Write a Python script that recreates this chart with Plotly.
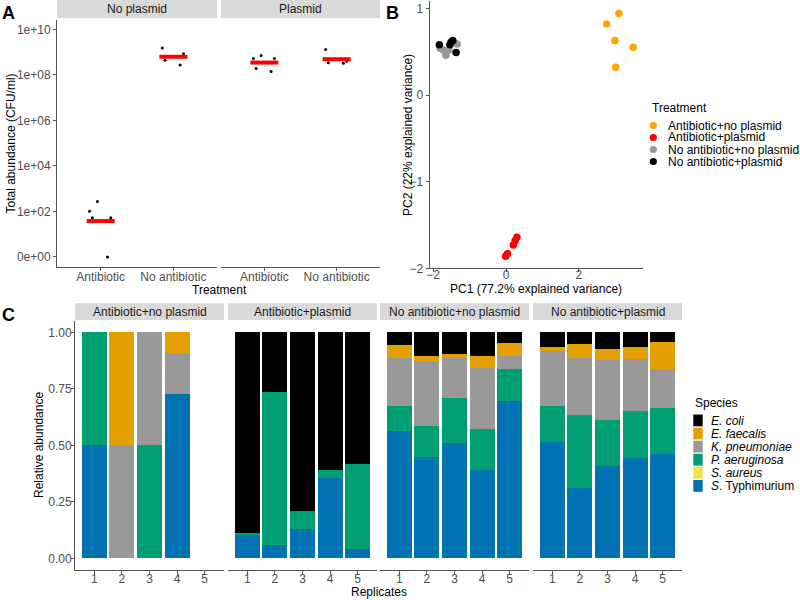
import plotly.graph_objects as go
import numpy as np

W, H = 800, 600
FONT = "Liberation Sans, Arial, sans-serif"
TICK_COL = "#4D4D4D"
LINE_COL = "#555555"

# ---------------- Panel A: total abundance (CFU/ml) ----------------
a_facets = ["No plasmid", "Plasmid"]
a_treatments = ["Antibiotic", "No antibiotic"]
nopl_antibiotic = [275, 100, 52, 52, 0]
nopl_no_antibiotic = [1.5e9, 8.5e8, 4.4e8, 2.7e8]
pl_antibiotic = [5.2e8, 7.0e8, 5.2e8, 1.9e8, 1.4e8]
pl_no_antibiotic = [1.3e9, 3.2e8, 4.0e8, 3.4e8]
a_tickvals = [0, 2, 4, 6, 8, 10]
a_ticktext = ["0e+00", "1e+02", "1e+04", "1e+06", "1e+08", "1e+10"]

# ---------------- Panel B: PCA ----------------
b_groups = ["Antibiotic+no plasmid", "Antibiotic+plasmid",
            "No antibiotic+no plasmid", "No antibiotic+plasmid"]
b_colors = ["#FFA500", "#FF0000", "#999999", "#000000"]
pc1_abx_nopl = [3.10, 2.76, 2.99, 3.49, 3.01]
pc2_abx_nopl = [0.94, 0.82, 0.63, 0.55, 0.32]
pc1_abx_pl = [-0.01, 0.04, 0.20, 0.25, 0.30]
pc2_abx_pl = [-1.86, -1.83, -1.73, -1.68, -1.64]
pc1_noabx_nopl = [-1.72, -1.65, -1.34, -1.57, -1.81]
pc2_noabx_nopl = [0.52, 0.46, 0.59, 0.52, 0.54]
pc1_noabx_pl = [-1.83, -1.51, -1.46, -1.54, -1.37]
pc2_noabx_pl = [0.58, 0.61, 0.63, 0.58, 0.49]

# ---------------- Panel C: relative abundance ----------------
c_facets = ["Antibiotic+no plasmid", "Antibiotic+plasmid",
            "No antibiotic+no plasmid", "No antibiotic+plasmid"]
replicates = [1, 2, 3, 4, 5]
# one list of 5 replicates per facet
s_typhimurium = [[0.50, 0, 0, 0.727, 0],
                 [0.103, 0.059, 0.130, 0.357, 0.043],
                 [0.563, 0.450, 0.509, 0.391, 0.695],
                 [0.515, 0.311, 0.409, 0.444, 0.462]]
s_aureus = [[0, 0, 0, 0, 0]] * 4
p_aeruginosa = [[0.50, 0, 0.50, 0, 0],
                [0.009, 0.676, 0.079, 0.034, 0.373],
                [0.109, 0.135, 0.202, 0.181, 0.144],
                [0.159, 0.324, 0.204, 0.210, 0.204]]
k_pneumoniae = [[0, 0.50, 0.50, 0.183, 0],
                [0, 0, 0, 0, 0],
                [0.215, 0.286, 0.176, 0.270, 0.054],
                [0.245, 0.251, 0.265, 0.229, 0.173]]
e_faecalis = [[0, 0.50, 0, 0.090, 0],
              [0, 0, 0, 0, 0],
              [0.057, 0.022, 0.019, 0.055, 0.060],
              [0.015, 0.063, 0.049, 0.054, 0.116]]
e_coli = [[0, 0, 0, 0, 0],
          [0.888, 0.265, 0.791, 0.609, 0.584],
          [0.056, 0.107, 0.094, 0.103, 0.047],
          [0.066, 0.051, 0.073, 0.063, 0.045]]
species_labels = ["<i>E. coli</i>", "<i>E. faecalis</i>", "<i>K. pneumoniae</i>",
                  "<i>P. aeruginosa</i>", "<i>S. aureus</i>", "<i>S</i>. Typhimurium"]
species_colors = ["#000000", "#E69F00", "#999999", "#009E73", "#F0E442", "#0072B2"]


def px(x):
    return x / W


def py(y):
    return 1 - y / H


def axis_style(**kw):
    d = dict(showgrid=False, zeroline=False, showline=True, linecolor=LINE_COL,
             linewidth=1, ticks="outside", ticklen=3, tickcolor=LINE_COL,
             tickfont=dict(size=12, color=TICK_COL, family=FONT), fixedrange=True)
    d.update(kw)
    return d


fig = go.Figure()
layout_axes = {}
shapes = []
annotations = []


def strip(x0, x1, y0, y1, text):
    shapes.append(dict(type="rect", xref="paper", yref="paper",
                       x0=px(x0), x1=px(x1), y0=py(y1), y1=py(y0),
                       fillcolor="#D9D9D9", line=dict(width=0), layer="below"))
    annotations.append(dict(text=text, x=px((x0 + x1) / 2), y=py((y0 + y1) / 2),
                            xref="paper", yref="paper", showarrow=False,
                            xanchor="center", yanchor="middle",
                            font=dict(size=12, color="#1A1A1A", family=FONT)))


def label(text, x, y, size=12, angle=0, xanchor="center", bold=False, color="black"):
    annotations.append(dict(text=f"<b>{text}</b>" if bold else text, x=px(x), y=py(y),
                            xref="paper", yref="paper", showarrow=False,
                            textangle=angle, xanchor=xanchor, yanchor="middle",
                            font=dict(size=size, color=color, family=FONT)))


# ---------- Panel A ----------
a_series = [[nopl_antibiotic, nopl_no_antibiotic], [pl_antibiotic, pl_no_antibiotic]]
a_dom = [(57, 217), (221, 380)]
for j, (facet, series) in enumerate(zip(a_facets, a_series)):
    xa = "x" if j == 0 else "x2"
    ya = "y" if j == 0 else "y2"
    for i, vals in enumerate(series):
        logv = np.log10(np.array(vals) + 1)
        fig.add_trace(go.Scatter(
            x=[i + 1], y=[logv.mean()], mode="markers", xaxis=xa, yaxis=ya,
            marker=dict(symbol="line-ew", size=20, line=dict(color="red", width=4)),
            showlegend=False, hoverinfo="y"))
        fig.add_trace(go.Box(
            x=[i + 1] * len(vals), y=logv, boxpoints="all", jitter=0.9, pointpos=0,
            width=0.4, xaxis=xa, yaxis=ya, fillcolor="rgba(0,0,0,0)",
            line=dict(width=0, color="rgba(0,0,0,0)"),
            marker=dict(color="black", size=3), showlegend=False, hoverinfo="y"))
    layout_axes["xaxis" if j == 0 else "xaxis2"] = axis_style(
        domain=[px(a_dom[j][0]), px(a_dom[j][1])], range=[0.4, 2.6],
        tickvals=[1, 2], ticktext=a_treatments, anchor=ya, ticklabelstandoff=-4)
    strip(a_dom[j][0], a_dom[j][1], 0, 18.3, facet)

a_ydom = [py(267), py(20)]
layout_axes["yaxis"] = axis_style(domain=a_ydom, range=[-0.44, 10.41],
                                  tickvals=a_tickvals, ticktext=a_ticktext, anchor="x")
layout_axes["yaxis2"] = dict(domain=a_ydom, range=[-0.44, 10.41], visible=False,
                             anchor="x2", fixedrange=True)
label("Total abundance (CFU/ml)", 11, 143.5, angle=-90)
label("Treatment", 219, 290)
label("A", 8, 13, size=18, bold=True)

# ---------- Panel B ----------
b_x = [pc1_abx_nopl, pc1_abx_pl, pc1_noabx_nopl, pc1_noabx_pl]
b_y = [pc2_abx_nopl, pc2_abx_pl, pc2_noabx_nopl, pc2_noabx_pl]
for name, col, xs, ys in zip(b_groups, b_colors, b_x, b_y):
    fig.add_trace(go.Scatter(x=xs, y=ys, mode="markers", name=name, xaxis="x3", yaxis="y3",
                             marker=dict(color=col, size=7.5), showlegend=False))
layout_axes["xaxis3"] = axis_style(domain=[px(429.5), px(643)], range=[-2.1, 3.76],
                                   tickvals=[-2, 0, 2], anchor="y3", ticklabelstandoff=-8)
layout_axes["yaxis3"] = axis_style(domain=[py(268.4), py(1.4)], range=[-2.0, 1.08],
                                   tickvals=[-2, -1, 0, 1], anchor="x3")
label("PC2 (22% explained variance)", 408, 135, angle=-90)
label("PC1 (77.2% explained variance)", 536, 288.8)
label("B", 392, 12.5, size=18, bold=True)

# legend B
label("Treatment", 650, 108.3, xanchor="left")
for k, (name, col) in enumerate(zip(b_groups, b_colors)):
    cy = 125.5 + k * 12
    shapes.append(dict(type="circle", xref="paper", yref="paper",
                       x0=px(653.3 - 3.6), x1=px(653.3 + 3.6),
                       y0=py(cy + 3.6), y1=py(cy - 3.6),
                       fillcolor=col, line=dict(width=0)))
    label(name, 665.5, cy, xanchor="left")

# ---------- Panel C ----------
stack = [s_typhimurium, s_aureus, p_aeruginosa, k_pneumoniae, e_faecalis, e_coli]
stack_colors = species_colors[::-1]
stack_names = species_labels[::-1]
c_dom = [(75, 224), (228, 377), (380, 529), (533, 682)]
c_ydom = [py(569.6), py(321)]
for j, facet in enumerate(c_facets):
    n = 4 + j
    for vals, col, name in zip(stack, stack_colors, stack_names):
        fig.add_trace(go.Bar(x=replicates, y=vals[j], width=0.9, name=name,
                             xaxis=f"x{n}", yaxis=f"y{n}", marker=dict(color=col, line=dict(width=0)),
                             showlegend=False))
    layout_axes[f"xaxis{n}"] = axis_style(domain=[px(c_dom[j][0]), px(c_dom[j][1])],
                                          range=[0.3, 5.7], tickvals=replicates, anchor=f"y{n}",
                                          ticklabelstandoff=-5)
    if j == 0:
        layout_axes[f"yaxis{n}"] = axis_style(
            domain=c_ydom, range=[-0.05, 1.05], tickvals=[0, 0.25, 0.5, 0.75, 1],
            ticktext=["0.00", "0.25", "0.50", "0.75", "1.00"], anchor=f"x{n}",
            ticklabelstandoff=-3)
    else:
        layout_axes[f"yaxis{n}"] = dict(domain=c_ydom, range=[-0.05, 1.05], visible=False,
                                        anchor=f"x{n}", fixedrange=True)
    strip(c_dom[j][0], c_dom[j][1], 303.3, 320, facet)

label("Relative abundance", 39, 445, angle=-90)
label("Replicates", 378.5, 591.7)
label("C", 8, 314.5, size=18, bold=True)

# legend C
label("Species", 692.7, 402.7, xanchor="left")
for k, (name, col) in enumerate(zip(species_labels, species_colors)):
    y0 = 414.5 + k * 13.1
    shapes.append(dict(type="rect", xref="paper", yref="paper",
                       x0=px(693.3), x1=px(702.7), y0=py(y0 + 11.8), y1=py(y0),
                       fillcolor=col, line=dict(width=0)))
    label(name, 709, y0 + 6, xanchor="left")

fig.update_layout(
    width=W, height=H,
    margin=dict(l=0, r=0, t=0, b=0, autoexpand=False),
    paper_bgcolor="white", plot_bgcolor="white",
    font=dict(family=FONT, size=12, color="black"),
    barmode="stack", boxmode="overlay",
    showlegend=False,
    shapes=shapes, annotations=annotations,
    **layout_axes,
)

# the page body has a default 8px margin; drop it so the figure sits at 0,0
fig.write_html("out.html", config={"displayModeBar": False},
               post_script="document.body.style.margin='0px';")
